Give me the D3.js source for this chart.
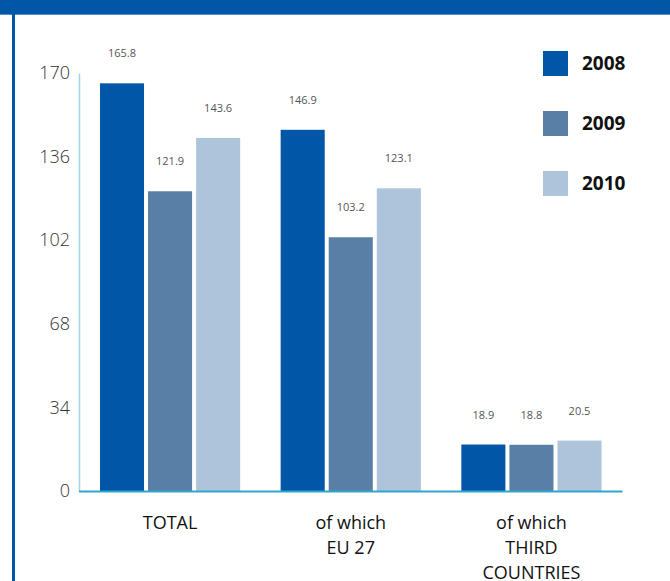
<!DOCTYPE html>
<html>
<head>
<meta charset="utf-8">
<script src="https://cdn.jsdelivr.net/npm/d3@7"></script>
<style>
html,body{margin:0;padding:0;background:#fff;}
svg{display:block;}
</style>
</head>
<body>
<svg id="chart" width="670" height="581"></svg>
<script>
const categories = [["TOTAL"], ["of which", "EU 27"], ["of which", "THIRD", "COUNTRIES"]];
const years = ["2008", "2009", "2010"];
const values2008 = [165.8, 146.9, 18.9];
const values2009 = [121.9, 103.2, 18.8];
const values2010 = [143.6, 123.1, 20.5];
const yTicks = [0, 34, 68, 102, 136, 170];
const colors = ["#0057a8", "#5a7fa7", "#aec4da"];

const series = [values2008, values2009, values2010];
const svg = d3.select("#chart");
const W = 670, H = 581;

// frame
svg.append("rect").attr("x", 0).attr("y", 0).attr("width", W).attr("height", 14).attr("fill", "#0057a8");
svg.append("line").attr("x1", 0).attr("x2", W).attr("y1", 14.5).attr("y2", 14.5).attr("stroke", "#4f8fd0").attr("stroke-width", 1);
svg.append("rect").attr("x", 12).attr("y", 0).attr("width", 3).attr("height", H).attr("fill", "#0057a8");

const x0 = 79, x1 = 622.5, yBase = 491, yTop = 73;
const y = d3.scaleLinear().domain([0, 170]).range([yBase, yTop]);
const xCat = d3.scaleBand().domain(d3.range(categories.length)).range([x0, x1]).paddingInner(0.224).paddingOuter(0.116);
const xYear = d3.scaleBand().domain(years).range([0, xCat.bandwidth()]).paddingInner(0.0833);

// y axis
const yAxis = d3.axisLeft(y).tickValues(yTicks).tickSize(0).tickPadding(9);
const gy = svg.append("g").attr("transform", `translate(${x0},0)`).call(yAxis);
gy.select(".domain").attr("stroke", "#9fd6e8").attr("stroke-width", 1.5);
gy.selectAll("text").attr("font-family", "'Open Sans', sans-serif").attr("font-size", 18).attr("fill", "#333").attr("font-weight", 300);

// bars
const groups = svg.append("g").selectAll("g").data(categories).join("g")
  .attr("transform", (d, i) => `translate(${xCat(i)},0)`);
years.forEach((yr, si) => {
  groups.append("rect")
    .attr("x", xYear(yr))
    .attr("width", xYear.bandwidth())
    .attr("y", (d, i) => y(series[si][i]))
    .attr("height", (d, i) => yBase - y(series[si][i]))
    .attr("fill", colors[si]);
  groups.append("text")
    .attr("x", xYear(yr) + xYear.bandwidth() / 2)
    .attr("y", (d, i) => y(series[si][i]) - 26)
    .attr("text-anchor", "middle")
    .attr("font-family", "'Open Sans', sans-serif")
    .attr("font-size", 11)
    .attr("fill", "#555")
    .text((d, i) => series[si][i].toFixed(1));
});

// baseline
svg.append("line").attr("x1", x0).attr("x2", x1).attr("y1", yBase + 0.5).attr("y2", yBase + 0.5)
  .attr("stroke", "#2ea7d0").attr("stroke-width", 2);

// category labels
const xAxis = d3.axisBottom(xCat).tickSize(0).tickFormat("");
const gx = svg.append("g").attr("transform", `translate(0,${yBase})`).call(xAxis);
gx.select(".domain").remove();
gx.selectAll(".tick").each(function(d) {
  const t = d3.select(this).append("text")
    .attr("text-anchor", "middle")
    .attr("font-family", "'Open Sans', sans-serif")
    .attr("font-size", 18)
    .attr("fill", "#111");
  categories[d].forEach((line, k) => {
    t.append("tspan").attr("x", 0).attr("y", 38 + k * 25).text(line);
  });
});

// legend
const legend = svg.append("g").selectAll("g").data(years).join("g")
  .attr("transform", (d, i) => `translate(543,${51 + i * 60})`);
legend.append("rect").attr("width", 25).attr("height", 25).attr("fill", (d, i) => colors[i]);
legend.append("text").attr("x", 39).attr("y", 19)
  .attr("font-family", "'Open Sans', sans-serif").attr("font-weight", 700).attr("font-size", 19)
  .attr("fill", "#111").text(d => d);
</script>
</body>
</html>
